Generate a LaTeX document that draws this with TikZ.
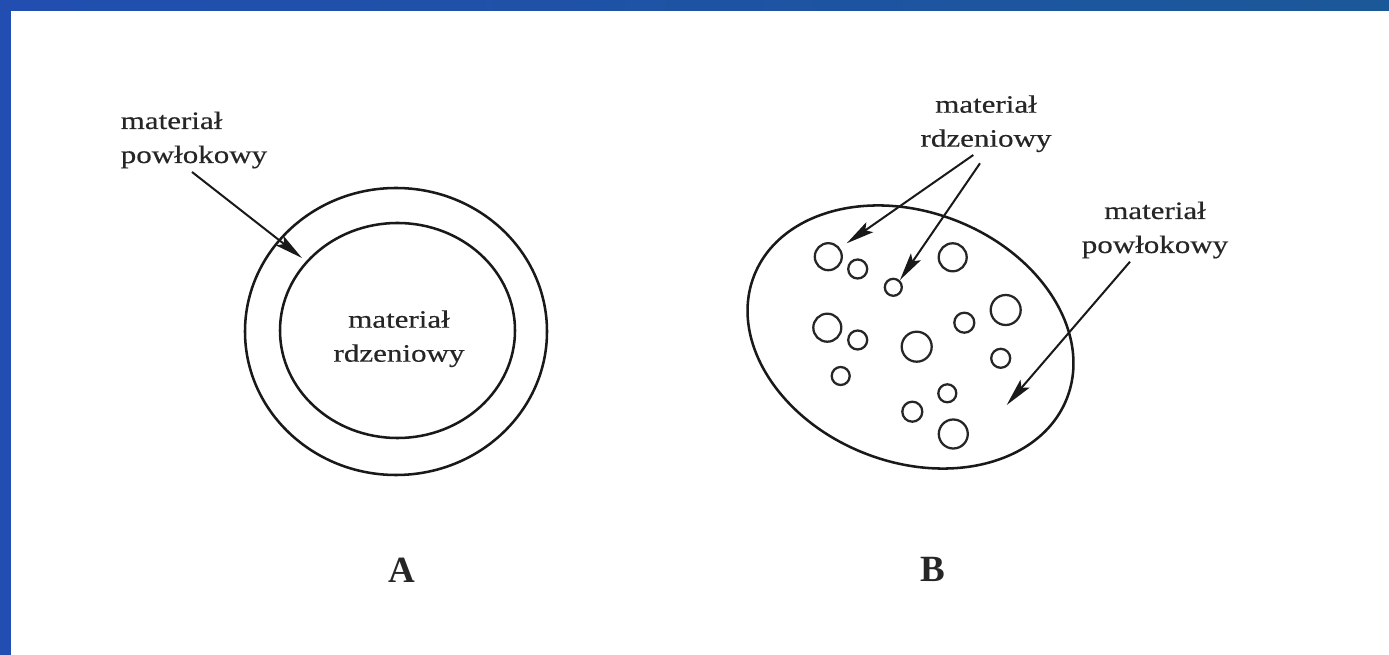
\documentclass[tikz,border=0pt]{standalone}
\usepackage{fontspec}
\setmainfont{Liberation Serif}
\newfontfamily\labfont[FakeStretch=1.24,FakeBold=0.4]{Liberation Serif}
\usetikzlibrary{arrows.meta}
\definecolor{frameblue}{RGB}{33,78,176}
\definecolor{frameblueR}{RGB}{27,88,152}
\begin{document}
\begin{tikzpicture}[x=0.75pt,y=0.75pt,
  lab/.style={font=\labfont\fontsize{18.75pt}{25.5pt}\selectfont, inner sep=0pt, text=black!85},
  outline/.style={draw=black!90, line width=1.9pt},
  bubble/.style={draw=black!85, line width=1.7pt},
  pointer/.style={draw=black!90, line width=1.5pt, -{Stealth[length=21pt,width=9pt,inset=4pt]}},
  panel/.style={font=\bfseries\fontsize{27.75pt}{30pt}\selectfont, inner sep=0pt, text=black!85}]
\useasboundingbox (0,0) rectangle (1389,-655);
\fill[white] (0,0) rectangle (1389,-655);
\shade[left color=frameblue, right color=frameblueR] (0,0) rectangle (1389,-11);
\fill[frameblue] (0,0) rectangle (11,-655);

% Panel A
\draw[outline] (396,-331.5) ellipse [x radius=151, y radius=143.5];
\draw[outline] (397.5,-330.5) ellipse [x radius=117.5, y radius=107.5];
\node[lab, align=left, anchor=base west] (coatA) at (120.5,-163) {materiał\\powłokowy};
\node[lab, align=center, anchor=base] (coreA) at (399,-361.7) {materiał\\rdzeniowy};
\coordinate (coatAfrom) at (192,-172);
\coordinate (coatAto) at (302,-258);
\draw[pointer] (coatAfrom) -- (coatAto);
\node[panel] (labelA) at (402,-570.5) {A};

% Panel B
\draw[outline, shift={(910.5,-337)}, rotate=-21.4] (0,0) ellipse [x radius=168, y radius=125];
\foreach \cx/\cy/\r in {828.3/256.7/13.5, 857.7/269/9.5, 893.3/287.3/8.5, 952.7/257.3/14,
  827.3/327.7/14, 857.7/340/9.5, 916.7/346.7/15, 964.3/322.7/10, 1005.7/310/15,
  1000.7/358.3/9.5, 840.7/376/9, 947.3/393.3/9, 912.3/411.7/10, 953.3/434/14.5}
  \draw[bubble] (\cx,-\cy) circle [radius=\r];
\node[lab, align=center, anchor=base] (coreB) at (986,-146.7) {materiał\\rdzeniowy};
\node[lab, align=center, anchor=base] (coatB) at (1155,-253) {materiał\\powłokowy};
\coordinate (coreBfromA) at (973.3,-155);
\coordinate (coreBtoA) at (846.7,-243.3);
\coordinate (coreBfromB) at (980,-163.3);
\coordinate (coreBtoB) at (900,-280);
\coordinate (coatBfrom) at (1130,-261.7);
\coordinate (coatBto) at (1006.7,-405);
\draw[pointer] (coreBfromA) -- (coreBtoA);
\draw[pointer] (coreBfromB) -- (coreBtoB);
\draw[pointer] (coatBfrom) -- (coatBto);
\node[panel] (labelB) at (933,-569) {B};
\end{tikzpicture}
\end{document}
